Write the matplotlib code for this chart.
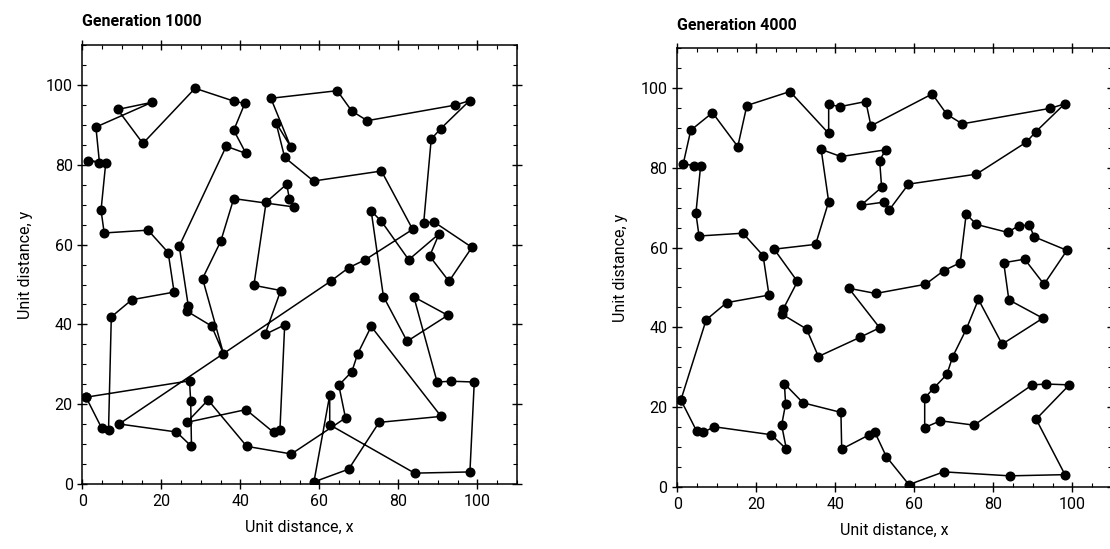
import numpy as np
import matplotlib.pyplot as plt
from matplotlib.ticker import MultipleLocator

plt.rcParams.update({'font.family': ['Roboto', 'DejaVu Sans']})

# City coordinates (unit distance), listed in the order of the generation 4000 tour
city_x = [0.9, 7.3, 12.5, 23.2, 21.7, 16.6, 5.5, 4.7, 5.9, 4.3,
          1.5, 3.4, 8.9, 15.3, 17.6, 28.5, 38.3, 38.3, 41.1, 47.7,
          49.0, 64.5, 68.2, 72.1, 94.4, 98.0, 90.7, 88.3, 75.7, 58.5,
          53.6, 52.4, 46.5, 51.7, 51.2, 52.7, 41.4, 36.4, 38.3, 35.0,
          24.5, 30.4, 26.8, 26.5, 32.7, 35.7, 46.2, 51.2, 43.4, 50.2,
          62.8, 67.4, 71.6, 73.1, 75.7, 83.6, 86.4, 89.1, 90.3, 98.6,
          92.8, 87.9, 82.6, 83.9, 92.5, 82.2, 76.2, 73.1, 69.7, 68.2,
          64.9, 62.6, 62.6, 66.6, 75.1, 89.8, 93.4, 99.2, 90.8, 98.1,
          84.1, 67.4, 58.6, 52.9, 50.0, 48.4, 41.6, 41.4, 31.8, 27.1,
          27.4, 26.4, 27.6, 23.8, 9.3, 6.6, 4.9]
city_y = [21.8, 41.9, 46.2, 48.1, 58.0, 63.6, 62.9, 68.6, 80.5, 80.5,
          81.0, 89.4, 93.8, 85.3, 95.6, 99.1, 88.6, 95.9, 95.3, 96.6,
          90.5, 98.5, 93.4, 91.0, 94.9, 96.0, 89.0, 86.4, 78.4, 75.9,
          69.4, 71.4, 70.6, 75.1, 81.8, 84.5, 82.8, 84.6, 71.5, 60.8,
          59.6, 51.5, 44.6, 43.3, 39.6, 32.7, 37.5, 39.9, 49.8, 48.5,
          50.8, 54.2, 56.2, 68.4, 65.8, 63.8, 65.5, 65.6, 62.7, 59.3,
          50.8, 57.1, 56.2, 46.9, 42.3, 35.8, 47.0, 39.5, 32.7, 28.2,
          24.8, 22.3, 14.9, 16.6, 15.5, 25.6, 25.8, 25.6, 17.0, 3.1,
          2.8, 3.8, 0.6, 7.6, 13.7, 13.0, 9.5, 18.7, 21.1, 25.9,
          20.8, 15.5, 9.5, 13.1, 15.1, 13.7, 14.0]

# visiting order (city indices) of the best tour at each generation
tour_gen1000 = [0, 89, 90, 92, 93, 94, 50, 51, 52, 55, 28, 29, 34, 20, 35, 19,
                21, 22, 23, 24, 25, 26, 27, 56, 57, 59, 60, 61, 58, 62, 54, 53,
                66, 65, 64, 63, 75, 76, 77, 79, 80, 72, 71, 82, 81, 74, 78, 67,
                68, 69, 70, 73, 83, 86, 88, 91, 87, 85, 84, 47, 46, 49, 48, 32,
                33, 31, 30, 38, 39, 41, 45, 44, 43, 42, 40, 37, 36, 16, 18, 17,
                15, 13, 12, 14, 11, 9, 10, 8, 7, 6, 5, 4, 3, 2, 1, 95, 96]
tour_gen4000 = list(range(len(city_x)))

panels = [('Generation 1000', tour_gen1000), ('Generation 4000', tour_gen4000)]

fig = plt.figure(figsize=(11.1, 5.49), dpi=100)
axes = [fig.add_axes([0.0743, 0.1178, 0.3914, 0.8007]),
        fig.add_axes([0.6102, 0.1129, 0.3916, 0.7996])]

cx = np.array(city_x)
cy = np.array(city_y)

for ax, (title, tour) in zip(axes, panels):
    order = list(tour) + [tour[0]]
    ax.plot(cx[order], cy[order], color='black', linewidth=1.1,
            marker='o', markersize=6.2, markerfacecolor='black',
            markeredgecolor='black', solid_joinstyle='round')
    ax.set_xlim(0, 110)
    ax.set_ylim(0, 110)
    ax.xaxis.set_minor_locator(MultipleLocator(5))
    ax.yaxis.set_minor_locator(MultipleLocator(5))
    ax.set_xticks([0, 20, 40, 60, 80, 100])
    ax.set_yticks([0, 20, 40, 60, 80, 100])
    ax.tick_params(which='major', direction='inout', length=7, width=1.0,
                   top=True, right=True, labelsize=11.5)
    ax.tick_params(which='minor', direction='in', length=3, width=0.8,
                   top=True, right=True)
    for s in ax.spines.values():
        s.set_linewidth(1.1)
    ax.set_xlabel('Unit distance, x', fontsize=11.5, labelpad=8)
    ax.set_ylabel('Unit distance, y', fontsize=11.5, labelpad=9)
    ax.text(0.0, 1.035, title, transform=ax.transAxes, fontsize=11.5,
            fontweight='bold', ha='left', va='bottom')

fig.savefig('out.png', dpi=100)
